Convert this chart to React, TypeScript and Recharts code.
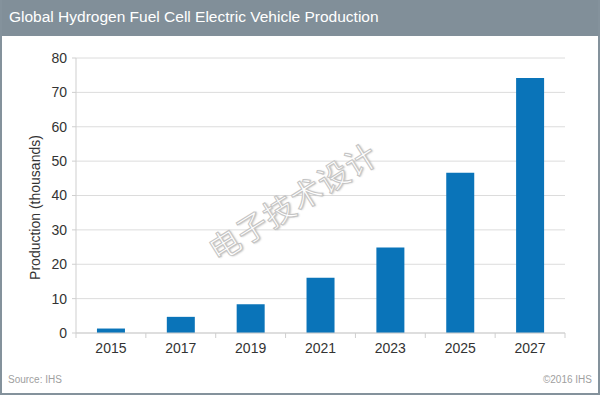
import { BarChart, Bar, XAxis, YAxis, CartesianGrid } from "recharts";

const years = ["2015", "2017", "2019", "2021", "2023", "2025", "2027"];
const production = [1.3, 4.7, 8.4, 16.1, 24.9, 46.6, 74.2];
const yTicks = [0, 10, 20, 30, 40, 50, 60, 70, 80];

const chartData = years.map((year, i) => ({ year, production: production[i] }));

const FONT = '"Liberation Sans", Arial, sans-serif';
const MARGIN = { top: 58, right: 35, left: 0, bottom: 32 };
const Y_WIDTH = 76;
const CHART_W = 600;
const CHART_H = 395;
const HALF_BAND = (CHART_W - MARGIN.left - MARGIN.right - Y_WIDTH) / years.length / 2;

function XTick({ x, y, payload, index }: any) {
  return (
    <g>
      <line x1={x - HALF_BAND} x2={x - HALF_BAND} y1={y - 8} y2={y - 3} stroke="#cfcfcf" />
      {index === years.length - 1 && (
        <line x1={x + HALF_BAND} x2={x + HALF_BAND} y1={y - 8} y2={y - 3} stroke="#cfcfcf" />
      )}
      <text x={x} y={y + 12} textAnchor="middle" fontSize={14} fill="#333" fontFamily={FONT}>
        {payload.value}
      </text>
    </g>
  );
}

function YLabel({ viewBox }: any) {
  const cy = viewBox.y + viewBox.height / 2 + 12;
  return (
    <text
      x={40}
      y={cy}
      transform={`rotate(-90, 40, ${cy})`}
      textAnchor="middle"
      fontSize={14}
      fill="#333"
      fontFamily={FONT}
    >
      Production (thousands)
    </text>
  );
}

export default function App() {
  return (
    <div
      style={{
        position: "fixed",
        left: 0,
        top: 0,
        width: CHART_W,
        height: CHART_H,
        background: "#fff",
        boxSizing: "border-box",
        border: "2px solid #84929c",
        borderTop: "none",
        fontFamily: FONT,
        overflow: "hidden",
      }}
    >
      <div
        style={{
          position: "absolute",
          left: -2,
          top: 0,
          width: CHART_W,
          height: 36,
          background: "#818f99",
          color: "#fff",
          fontSize: 15.5,
          lineHeight: "34px",
          paddingLeft: 9,
          boxSizing: "border-box",
        }}
      >
        Global Hydrogen Fuel Cell Electric Vehicle Production
      </div>
      <div style={{ position: "absolute", left: -2, top: 0 }}>
        <BarChart width={CHART_W} height={CHART_H} data={chartData} margin={MARGIN} barCategoryGap="30%">
          <CartesianGrid vertical={false} stroke="#dcdcdc" />
          <XAxis
            dataKey="year"
            axisLine={{ stroke: "#cfcfcf" }}
            tickLine={false}
            tick={<XTick />}
            interval={0}
            height={30}
          />
          <YAxis
            width={Y_WIDTH}
            domain={[0, 80]}
            ticks={yTicks}
            axisLine={{ stroke: "#cfcfcf" }}
            tickLine={{ stroke: "#cfcfcf" }}
            tickSize={4}
            tickMargin={5}
            tick={{ fontSize: 14, fill: "#333", fontFamily: FONT }}
            label={<YLabel />}
          />
          <Bar dataKey="production" fill="#0a74b9" isAnimationActive={false} />
        </BarChart>
      </div>
      <div
        style={{
          position: "absolute",
          left: 140,
          top: 178,
          width: 300,
          textAlign: "center",
          transform: "rotate(-32deg)",
          fontFamily: '"Noto Sans CJK SC", sans-serif',
          fontSize: 31,
          color: "#fff",
          WebkitTextStroke: "1px #c4c4c4",
          textShadow: "1px 1px 2px rgba(0,0,0,0.25)",
          letterSpacing: 1,
        }}
      >
        电子技术设计
      </div>
      <div style={{ position: "absolute", left: 6, top: 374, fontSize: 10, color: "#a0a0a0" }}>
        Source: IHS
      </div>
      <div style={{ position: "absolute", right: 6, top: 374, fontSize: 10, color: "#a0a0a0" }}>
        ©2016 IHS
      </div>
    </div>
  );
}
